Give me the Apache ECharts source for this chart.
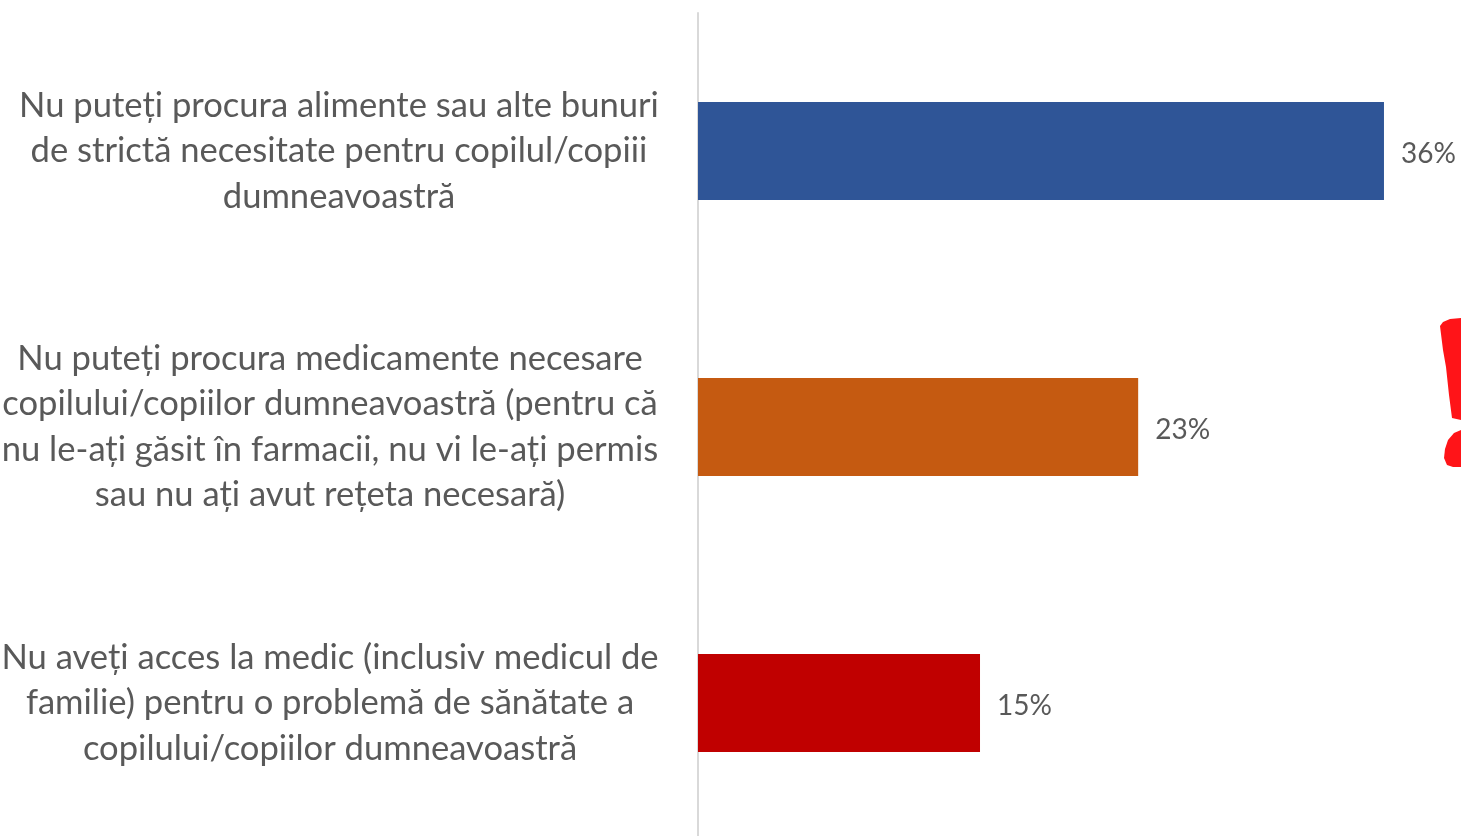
<!DOCTYPE html>
<html><head><meta charset="utf-8">
<style>html,body{margin:0;padding:0;background:#fff;overflow:hidden}#c{width:1461px;height:836px}</style>
<script src="https://cdn.jsdelivr.net/npm/echarts@6/dist/echarts.min.js"></script>
</head><body><div id="c"></div>
<script>
const categories = [
 "Nu puteți procura alimente sau alte bunuri\nde strictă necesitate pentru copilul/copiii\ndumneavoastră",
 "Nu puteți procura medicamente necesare\ncopilului/copiilor dumneavoastră (pentru că\nnu le-ați găsit în farmacii, nu vi le-ați permis\nsau nu ați avut rețeta necesară)",
 "Nu aveți acces la medic (inclusiv medicul de\nfamilie) pentru o problemă de sănătate a\ncopilului/copiilor dumneavoastră"
];
const values = [36, 23.1, 14.8];
const barColors = ["#2F5597", "#C55A11", "#C00000"];
const labelShift = [18, 0, 0];
const chart = echarts.init(document.getElementById('c'), null, {renderer:'canvas'});
chart.setOption({
  animation:false,
  backgroundColor:'#fff',
  grid:{left:698, top:13, width:762.2, height:828, containLabel:false, outerBoundsMode:'none'},
  xAxis:{type:'value', min:0, max:40, show:false},
  yAxis:{type:'category', inverse:true, offset:2,
    data:categories.map((c,i)=>({value:c, textStyle:{align:'center', padding:[2,0,0,labelShift[i]]}})),
    axisLine:{show:true, lineStyle:{color:'#D9D9D9', width:2}},
    axisTick:{show:false},
    axisLabel:{color:'#595959', fontFamily:'Lato', fontSize:34.6, lineHeight:45.5, align:'center', margin:366, interval:0, hideOverlap:false}
  },
  series:[{type:'bar', barWidth:98,
    data:values.map((v,i)=>({value:v, itemStyle:{color:barColors[i]}})),
    label:{show:true, position:'right', distance:17, offset:[0,3], color:'#595959', fontFamily:'Lato', fontSize:28,
      formatter:p=>Math.round(p.value)+'%'}
  }],
  graphic:[
    {type:'polygon', z:5, shape:{points:[[1440,326],[1443,322],[1450,319],[1461,318],[1461,420],[1452,418],[1449,395],[1446,367],[1443,350]]}, style:{fill:'#FF1418'}},
    {type:'polygon', z:5, shape:{points:[[1461,430],[1454,433],[1448,440],[1445,449],[1444,458],[1447,465],[1453,467],[1461,467]]}, style:{fill:'#FF1418'}}
  ]
});
</script></body></html>
